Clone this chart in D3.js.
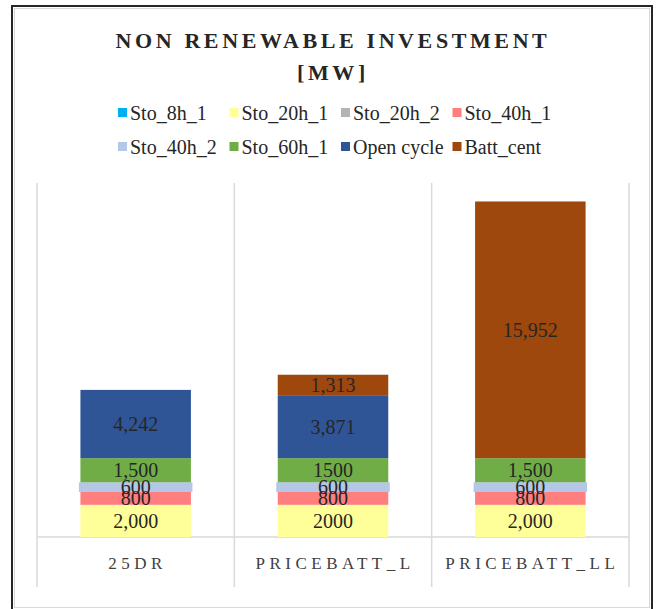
<!DOCTYPE html>
<html>
<head>
<meta charset="utf-8">
<script src="https://cdn.jsdelivr.net/npm/d3@7"></script>
<style>
  body { margin: 0; background: #fff; }
  svg text { font-family: "Liberation Serif", "Times New Roman", serif; }
</style>
</head>
<body>
<div id="vis"></div>
<script>
// chart data
var categories = ["25DR", "PRICEBATT_L", "PRICEBATT_LL"];
var seriesNames = ["Sto_8h_1", "Sto_20h_1", "Sto_20h_2", "Sto_40h_1", "Sto_40h_2", "Sto_60h_1", "Open cycle", "Batt_cent"];
var seriesColors = ["#00B0F0", "#FFFF99", "#B4B4B4", "#FF7F7F", "#B4C7E7", "#70AD47", "#2F5597", "#9E480E"];
var sto8h1 = [0, 0, 0];
var sto20h1 = [2000, 2000, 2000];
var sto20h2 = [0, 0, 0];
var sto40h1 = [800, 800, 800];
var sto40h2 = [600, 600, 600];
var sto60h1 = [1500, 1500, 1500];
var openCycle = [4242, 3871, 0];
var battCent = [0, 1313, 15952];
// labels that were written without thousands separator
var plainLabels = [["PRICEBATT_L", "Sto_20h_1"], ["PRICEBATT_L", "Sto_60h_1"]];
var yMax = 22000;

var seriesValues = [sto8h1, sto20h1, sto20h2, sto40h1, sto40h2, sto60h1, openCycle, battCent];

var w = 657, h = 609;
var svg = d3.select("#vis").append("svg").attr("width", w).attr("height", h);

// frame
svg.append("rect").attr("x", 12).attr("y", 6).attr("width", 640).attr("height", 620)
  .attr("fill", "none").attr("stroke", "#262626").attr("stroke-width", 2);
svg.append("rect").attr("x", 14.5).attr("y", 8.5).attr("width", 635).attr("height", 599)
  .attr("fill", "none").attr("stroke", "#d9d9d9").attr("stroke-width", 1);

// title
svg.append("text").attr("x", 333).attr("y", 48).attr("text-anchor", "middle")
  .style("font-size", "22px").style("font-weight", "bold").style("letter-spacing", "3.6px")
  .attr("fill", "#262626").text("NON RENEWABLE INVESTMENT");
svg.append("text").attr("x", 333).attr("y", 80).attr("text-anchor", "middle")
  .style("font-size", "22px").style("font-weight", "bold").style("letter-spacing", "3.6px")
  .attr("fill", "#262626").text("[MW]");

// legend
var legend = svg.append("g");
var leg = legend.selectAll("g").data(seriesNames).enter().append("g")
  .attr("transform", function(d, i) {
    return "translate(" + (118 + (i % 4) * 111.5) + "," + (113 + Math.floor(i / 4) * 34) + ")";
  });
leg.append("rect").attr("x", 0).attr("y", -5).attr("width", 9).attr("height", 9)
  .attr("fill", function(d, i) { return seriesColors[i]; });
leg.append("text").attr("x", 12).attr("y", 6.5).style("font-size", "20px").attr("fill", "#262626")
  .text(function(d) { return d; });

// scales
var x = d3.scaleBand().domain(categories).range([37, 629]);
var y = d3.scaleLinear().domain([0, yMax]).range([537, 183]);
var barW = x.bandwidth() * 0.56;

// gridlines between categories
var bounds = categories.map(function(c) { return x(c); }).concat([x.range()[1]]);
svg.selectAll("line.grid").data(bounds).enter().append("line")
  .attr("class", "grid")
  .attr("x1", function(d) { return d; }).attr("x2", function(d) { return d; })
  .attr("y1", 183).attr("y2", 587)
  .attr("stroke", "#d9d9d9").attr("stroke-width", 1.5);
svg.append("line").attr("x1", 37).attr("x2", 629).attr("y1", y(0)).attr("y2", y(0))
  .attr("stroke", "#d9d9d9").attr("stroke-width", 1.5);

// stack
var rows = categories.map(function(c, ci) {
  var r = { cat: c };
  seriesNames.forEach(function(s, si) { r[s] = seriesValues[si][ci]; });
  return r;
});
var stacked = d3.stack().keys(seriesNames)(rows);

var fmt = d3.format(",");
function labelFor(cat, s, v) {
  var plain = plainLabels.some(function(p) { return p[0] === cat && p[1] === s; });
  return plain ? String(v) : fmt(v);
}

stacked.forEach(function(layer, si) {
  var g = svg.append("g");
  var segs = layer.filter(function(d) { return d[1] - d[0] > 0; });
  var extra = seriesNames[si] === "Sto_40h_2" ? 1.5 : 0;
  g.selectAll("rect").data(segs).enter().append("rect")
    .attr("x", function(d) { return x(d.data.cat) + (x.bandwidth() - barW) / 2 - extra; })
    .attr("width", barW + extra * 2)
    .attr("y", function(d) { return y(d[1]); })
    .attr("height", function(d) { return y(d[0]) - y(d[1]); })
    .attr("fill", seriesColors[si]);
});

stacked.forEach(function(layer, si) {
  var segs = layer.filter(function(d) { return d[1] - d[0] > 0; });
  svg.append("g").selectAll("text").data(segs).enter().append("text")
    .attr("x", function(d) { return x(d.data.cat) + x.bandwidth() / 2; })
    .attr("y", function(d) { return (y(d[0]) + y(d[1])) / 2 + 7; })
    .attr("text-anchor", "middle")
    .style("font-size", "20px").attr("fill", "#262626")
    .text(function(d) { return labelFor(d.data.cat, layer.key, d[1] - d[0]); });
});

// category labels
svg.selectAll("text.cat").data(categories).enter().append("text")
  .attr("class", "cat")
  .attr("x", function(d) { return x(d) + x.bandwidth() / 2 + 2; })
  .attr("y", 569)
  .attr("text-anchor", "middle")
  .style("font-size", "17px").style("letter-spacing", "4.5px")
  .attr("fill", "#404040")
  .text(function(d) { return d; });
</script>
</body>
</html>
